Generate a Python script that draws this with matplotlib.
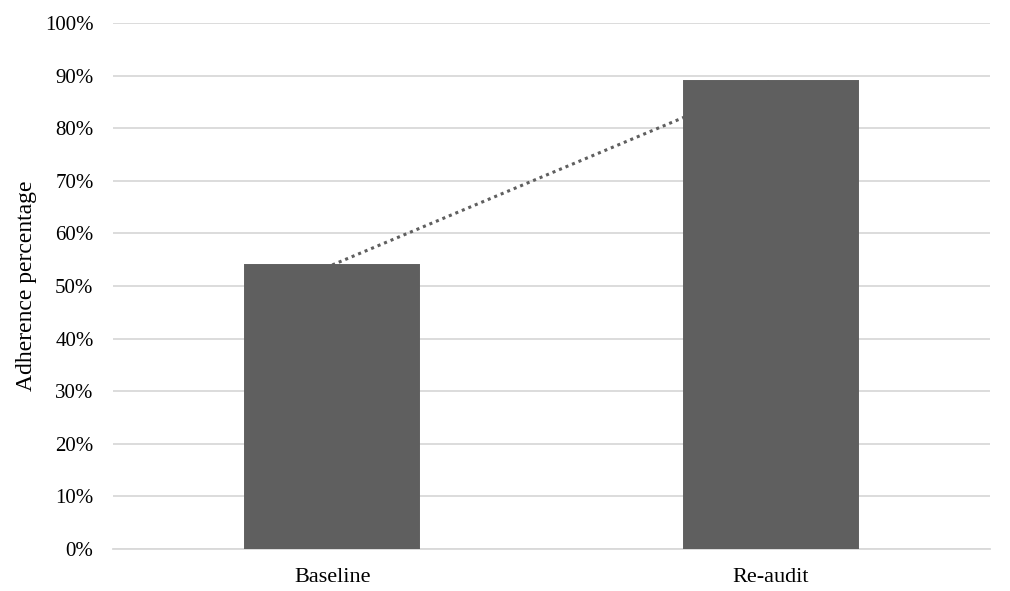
import numpy as np
import matplotlib
matplotlib.use("Agg")
import matplotlib.pyplot as plt
from matplotlib.ticker import PercentFormatter

categories = ["Baseline", "Re-audit"]
adherence = [54, 89]
y_ticks = list(range(0, 101, 10))

plt.rcParams["font.family"] = ["Liberation Serif", "DejaVu Serif"]

fig = plt.figure(figsize=(10.1, 5.91), dpi=100)
ax = fig.add_axes([113 / 1010, 42 / 591, 877 / 1010, 526 / 591])

x = np.arange(len(categories))
bar_color = "#5f5f5f"
grid_color = "#d9d9d9"

# linear trendline through the bar values, sits behind the bars
fit = np.polyfit(x, adherence, 1)
ax.plot(x, np.polyval(fit, x), linestyle=(0, (1, 1.3)), color=bar_color,
        linewidth=2.2, zorder=2)

ax.bar(x, adherence, width=0.397, color=bar_color, edgecolor=bar_color,
       linewidth=1.4, zorder=3)

ax.set_xlim(-0.5, 1.5)
ax.set_ylim(0, 100)
ax.set_yticks(y_ticks)
ax.yaxis.set_major_formatter(PercentFormatter(decimals=0))
ax.set_xticks(x)
ax.set_xticklabels(categories)
ax.grid(axis="y", color=grid_color, linewidth=1.3, zorder=0)
ax.set_axisbelow(True)

for side in ["top", "right", "left"]:
    ax.spines[side].set_visible(False)
ax.spines["bottom"].set_color(grid_color)
ax.spines["bottom"].set_linewidth(1.3)

ax.tick_params(axis="both", length=0, colors="black")
ax.tick_params(axis="y", pad=14, labelsize=15)
ax.tick_params(axis="x", pad=14, labelsize=16)
ax.set_ylabel("Adherence percentage", fontsize=17, labelpad=6)

fig.savefig("out.png", dpi=100)
